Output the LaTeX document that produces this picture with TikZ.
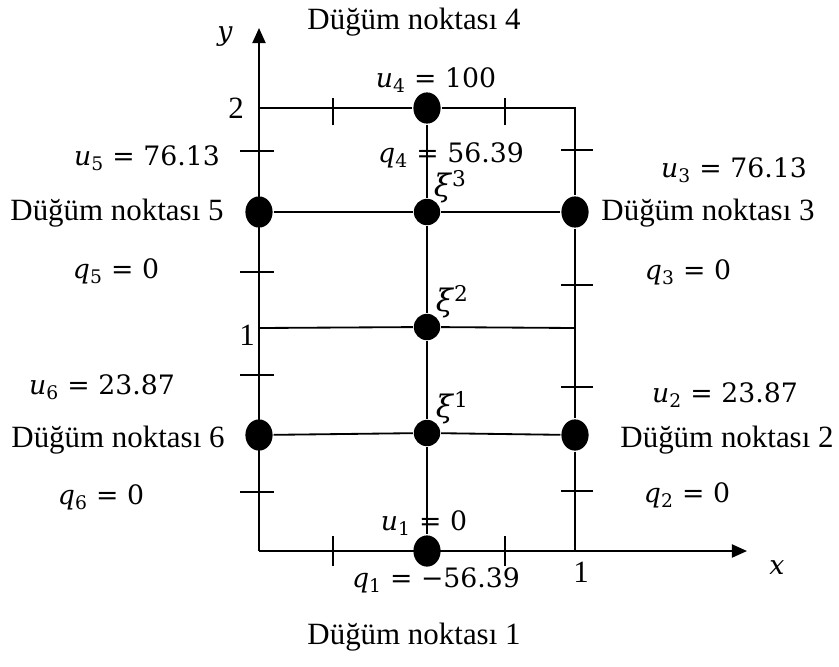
\documentclass[tikz,border=0pt]{standalone}
\usepackage{fontspec}
\setmainfont{Liberation Serif}
\newfontfamily\valfont{DejaVu Serif}
\usetikzlibrary{arrows.meta,shapes.geometric}

\begin{document}
\begin{tikzpicture}[
    x=0.025cm, y=-0.025cm,
    font=\fontsize{22}{26}\selectfont,
    line width=1.3pt,
    bnode/.style={ellipse, fill=black, inner sep=0pt,
      minimum width=6.8mm, minimum height=7.8mm},
    inode/.style={circle, fill=black, inner sep=0pt, minimum size=6.6mm},
    lbl/.style={inner sep=1pt},
    val/.style={lbl, font=\valfont\fontsize{19}{23}\selectfont},
    xilbl/.style={inner sep=0pt, anchor=south west,
      font=\valfont\fontsize{22}{26}\selectfont},
    arr/.style={-{Triangle[length=3.8mm, width=3.3mm]}}
  ]
  \useasboundingbox (0,0) rectangle (839,666);

  \coordinate (O)    at (259,551);
  \coordinate (ytip) at (259,28);
  \coordinate (xtip) at (747,551);
  \coordinate (tl)   at (259,108);
  \coordinate (tr)   at (575,108);
  \coordinate (ml)   at (259,328);
  \coordinate (mr)   at (575,328);
  \coordinate (br)   at (575,551);

  \draw[arr] (O) -- (ytip);
  \draw[arr] (O) -- (xtip);

  \node[bnode] (n1) at (427,551) {};
  \node[bnode] (n2) at (575,435) {};
  \node[bnode] (n3) at (575,212) {};
  \node[bnode] (n4) at (427,108) {};
  \node[bnode] (n5) at (259,212) {};
  \node[bnode] (n6) at (259,435) {};
  \node[inode] (x1) at (427,433) {};
  \node[inode] (x2) at (427,327) {};
  \node[inode] (x3) at (427,212) {};

  \draw (tl) -- (n4) -- (tr) -- (n3) -- (n2) -- (br);
  \draw (n4) -- (x3) -- (x2) -- (x1) -- (n1);
  \draw (n5) -- (x3) -- (n3);
  \draw (ml) -- (x2) -- (mr);
  \draw (n6) -- (x1) -- (n2);

  \foreach \y in {151,272,375,492} \draw (240,\y) -- (274,\y);
  \foreach \y in {150,285,387,491} \draw (561,\y) -- (593,\y);
  \foreach \x in {333,505} {
    \draw (\x,98) -- (\x,125);
    \draw (\x,536) -- (\x,566);
  }

  \node[lbl] (t4) at (414,22)  {Düğüm noktası 4};
  \node[lbl] (t5) at (117,213) {Düğüm noktası 5};
  \node[lbl] (t3) at (708,213) {Düğüm noktası 3};
  \node[lbl] (t6) at (118,440) {Düğüm noktası 6};
  \node[lbl] (t2) at (727,440) {Düğüm noktası 2};
  \node[lbl] (t1) at (414,637) {Düğüm noktası 1};

  \node[val] (u4) at (436,80)  {\textit{u}\textsubscript{4} = 100};
  \node[val] (q4) at (451,155) {\textit{q}\textsubscript{4} = 56.39};
  \node[val] (u5) at (147,158) {\textit{u}\textsubscript{5} = 76.13};
  \node[val] (u3) at (734,170) {\textit{u}\textsubscript{3} = 76.13};
  \node[val] (q5) at (116,271) {\textit{q}\textsubscript{5} = 0};
  \node[val] (q3) at (688,272) {\textit{q}\textsubscript{3} = 0};
  \node[val] (u6) at (102,387) {\textit{u}\textsubscript{6} = 23.87};
  \node[val] (u2) at (725,395) {\textit{u}\textsubscript{2} = 23.87};
  \node[val] (q6) at (101,497) {\textit{q}\textsubscript{6} = 0};
  \node[val] (q2) at (687,495) {\textit{q}\textsubscript{2} = 0};
  \node[val] (u1) at (424,523) {\textit{u}\textsubscript{1} = 0};
  \node[val] (q1) at (436,580) {\textit{q}\textsubscript{1} = −56.39};

  \node[xilbl] (xi3) at (433,204) {\textit{ξ}\textsuperscript{3}};
  \node[xilbl] (xi2) at (435,319) {\textit{ξ}\textsuperscript{2}};
  \node[xilbl] (xi1) at (435,425) {\textit{ξ}\textsuperscript{1}};

  \node[val] (ylab)  at (225,37)  {\textit{y}};
  \node[val] (xlab)  at (777,568) {\textit{x}};
  \node[lbl] (ytwo)  at (236,108) {2};
  \node[lbl] (yone)  at (247,335) {1};
  \node[lbl] (xone)  at (581,572) {1};
\end{tikzpicture}
\end{document}
